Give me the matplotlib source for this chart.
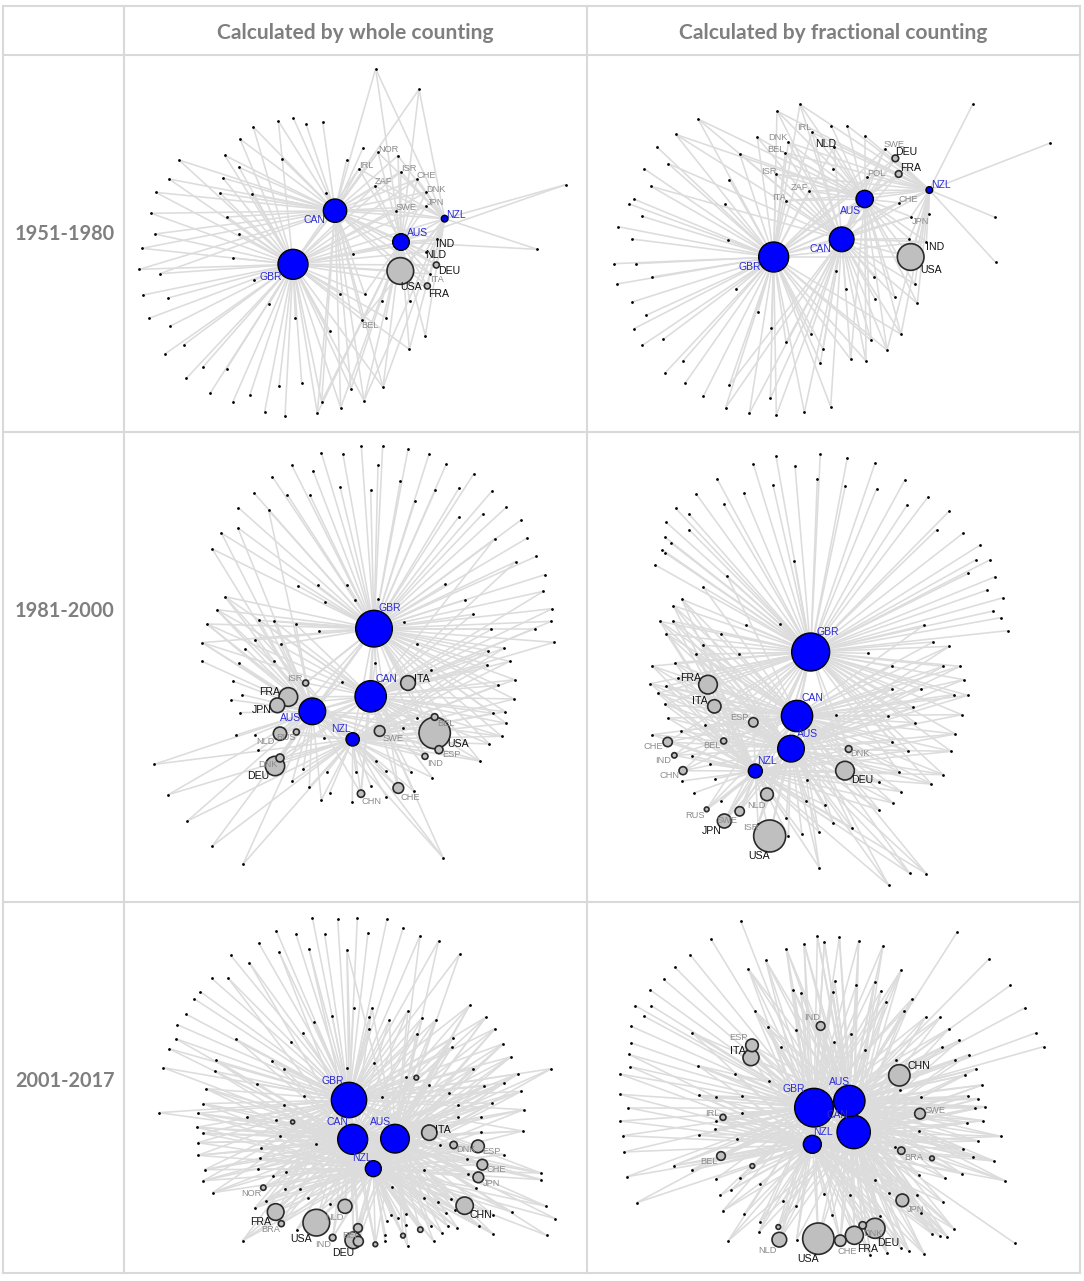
import matplotlib.pyplot as plt
import numpy as np
from matplotlib.collections import LineCollection
from matplotlib.patches import Circle

# ---------------- data (layout units: 3 units per pixel inside each cell) ----------------
COL_TITLES = ["Calculated by whole counting", "Calculated by fractional counting"]
ROW_TITLES = ["1951-1980", "1981-2000", "2001-2017"]
HUBS = ["GBR", "CAN", "AUS", "NZL"]

# panel 1: 1951-1980, whole counting
P1_HUB_XY = [(507, 628), (633, 467), (831, 561), (962, 491)]
P1_HUB_R = [45, 35, 25, 10]
P1_HUB_LAB = [(440, 665), (572, 495), (880, 535), (997, 480)]
P1_NODES = ["USA", "DEU", "FRA", "IND", "NLD", "ITA", "BEL", "SWE", "JPN", "DNK", "CHE", "ISR", "ZAF", "IRL", "NOR"]
P1_NODE_XY = [(829, 648), (937, 630), (910, 693), (940, 553), (905, 590), (918, 657), (715, 795), (815, 468),
              (906, 454), (907, 411), (880, 372), (830, 350), (752, 393), (705, 341), (762, 292)]
P1_NODE_R = [40, 9, 9, 0, 0, 0, 0, 0, 0, 0, 0, 0, 0, 0, 0]
P1_NODE_LAB = [(862, 695), (975, 648), (945, 717), (963, 566), (934, 600), (938, 673), (738, 812), (846, 459),
               (934, 442), (935, 402), (907, 362), (853, 340), (777, 380), (726, 331), (792, 282)]
P1_DARK = ["USA", "DEU", "FRA", "IND", "NLD"]
P1_DOTS = [(755, 41), (885, 103), (1325, 389), (1240, 583), (508, 189), (463, 198), (546, 207), (596, 200),
           (388, 216), (348, 252), (302, 301), (474, 311), (165, 315), (345, 337), (668, 315), (717, 279),
           (822, 302), (135, 372), (297, 369), (95, 412), (289, 415), (384, 417), (606, 414), (82, 475),
           (310, 486), (93, 537), (345, 536), (54, 580), (328, 609), (686, 597), (46, 643), (108, 656),
           (389, 676), (57, 720), (132, 729), (435, 747), (649, 716), (722, 717), (773, 737), (857, 739),
           (75, 790), (514, 789), (785, 788), (139, 813), (617, 827), (904, 842), (856, 883), (180, 869),
           (123, 897), (237, 936), (308, 941), (777, 997), (187, 970), (465, 993), (681, 1002), (258, 1015),
           (378, 1019), (533, 983), (327, 1040), (593, 1040), (720, 1037), (422, 1070), (483, 1083),
           (580, 1075), (650, 1058)]

# panel 2: 1951-1980, fractional counting
P2_HUB_XY = [(560, 606), (764, 553), (833, 432), (1027, 405)]
P2_HUB_R = [45, 37, 26, 10]
P2_HUB_LAB = [(487, 635), (701, 582), (790, 467), (1062, 390)]
P2_NODES = ["USA", "DEU", "FRA", "IND", "NLD", "SWE", "POL", "CHE", "JPN", "ZAF", "ITA", "ISR", "BEL", "DNK", "IRL"]
P2_NODE_XY = [(971, 606), (925, 310), (935, 357), (1018, 560), (741, 275), (893, 281), (840, 367), (935, 443),
              (972, 485), (665, 408), (597, 437), (568, 358), (595, 293), (604, 262), (675, 232)]
P2_NODE_R = [40, 10, 10, 0, 0, 0, 0, 0, 0, 0, 0, 0, 0, 0, 0]
P2_NODE_LAB = [(1031, 645), (958, 292), (970, 338), (1045, 575), (715, 268), (922, 268), (867, 355), (965, 433),
               (1000, 498), (638, 397), (576, 428), (545, 349), (568, 283), (574, 247), (652, 219)]
P2_DARK = ["USA", "DEU", "FRA", "IND", "NLD"]
P2_DOTS = [(639, 148), (1157, 148), (1390, 264), (570, 168), (333, 192), (266, 238), (733, 212), (781, 212),
           (833, 242), (511, 247), (209, 275), (458, 296), (244, 326), (171, 341), (427, 374), (739, 341),
           (192, 394), (140, 432), (127, 447), (414, 448), (166, 484), (93, 515), (134, 552), (422, 555),
           (1224, 487), (1025, 477), (967, 551), (82, 626), (146, 626), (195, 666), (90, 687), (446, 702),
           (746, 647), (861, 665), (983, 688), (1226, 622), (136, 741), (776, 701), (864, 731), (924, 727),
           (991, 745), (177, 781), (512, 772), (141, 821), (553, 818), (671, 836), (229, 853), (166, 871),
           (597, 862), (852, 856), (942, 838), (708, 883), (900, 885), (288, 918), (791, 913), (837, 918),
           (700, 925), (233, 955), (294, 985), (427, 990), (349, 1024), (550, 1030), (416, 1058), (487, 1075),
           (568, 1080), (652, 1072), (731, 1055)]

# panel 3: 1981-2000, whole counting
P3_HUB_XY = [(750, 590), (740, 793), (565, 838), (686, 922)]
P3_HUB_R = [55, 47, 40, 20]
P3_HUB_LAB = [(798, 527), (786, 740), (500, 857), (650, 892)]
P3_NODES = ["USA", "ITA", "FRA", "JPN", "DEU", "DNK", "NLD", "RUS", "ISR", "SWE", "BEL", "ESP", "IND", "CHN", "CHE"]
P3_NODE_XY = [(932, 903), (852, 753), (493, 795), (460, 820), (453, 1002), (468, 978), (468, 905), (517, 900),
              (545, 753), (767, 897), (932, 855), (945, 953), (903, 973), (711, 1085), (823, 1068)]
P3_NODE_R = [47, 22, 28, 22, 29, 12, 20, 9, 9, 16, 10, 12, 9, 11, 16]
P3_NODE_LAB = [(1002, 935), (893, 742), (438, 780), (412, 835), (403, 1032), (432, 998), (423, 930), (485, 918),
               (513, 740), (808, 920), (965, 875), (983, 968), (933, 993), (742, 1110), (858, 1096)]
P3_DARK = ["USA", "ITA", "FRA", "JPN", "DEU"]
P3_DOTS = [(712, 42), (776, 42), (852, 52), (592, 62), (657, 67), (915, 66), (503, 99), (762, 98), (967, 96),
           (567, 116), (1049, 126), (445, 134), (829, 147), (648, 164), (740, 175), (934, 175), (1006, 167),
           (1104, 177), (390, 183), (490, 188), (557, 188), (873, 208), (1147, 226), (343, 227), (434, 235),
           (1077, 245), (1005, 254), (1191, 264), (341, 287), (292, 303), (1210, 318), (1112, 320), (265, 351),
           (1175, 389), (1237, 373), (1263, 428), (964, 457), (521, 461), (581, 460), (670, 458), (1258, 478),
           (303, 494), (692, 505), (761, 502), (1023, 503), (603, 510), (1285, 530), (278, 533), (1047, 547),
           (404, 565), (449, 567), (515, 577), (249, 576), (841, 569), (1282, 568), (585, 598), (1102, 592),
           (1232, 590), (392, 624), (470, 637), (235, 632), (880, 635), (1290, 631), (364, 650), (1140, 649),
           (1092, 656), (234, 688), (344, 694), (450, 688), (754, 692), (1089, 698), (1157, 688), (921, 713),
           (326, 747), (653, 749), (1172, 743), (1121, 760), (354, 788), (321, 803), (1170, 801), (348, 842),
           (1144, 839), (1106, 844), (878, 857), (836, 887), (1147, 874), (336, 909), (392, 908), (1133, 913),
           (600, 917), (1096, 936), (403, 955), (91, 997), (755, 987), (860, 1020), (1068, 987), (538, 1010),
           (608, 1020), (695, 1020), (785, 1018), (925, 1037), (505, 1047), (740, 1061), (556, 1065),
           (617, 1082), (787, 1094), (870, 1078), (592, 1104), (685, 1111), (133, 1088), (190, 1167),
           (265, 1242), (357, 1297), (957, 1277)]

# panel 4: 1981-2000, fractional counting
P4_HUB_XY = [(671, 660), (630, 852), (612, 950), (505, 1017)]
P4_HUB_R = [57, 47, 40, 21]
P4_HUB_LAB = [(723, 600), (676, 797), (662, 906), (540, 988)]
P4_NODES = ["USA", "FRA", "ITA", "ESP", "CHE", "BEL", "IND", "CHN", "DNK", "DEU", "NLD", "RUS", "SWE", "JPN", "ISR"]
P4_NODE_XY = [(548, 1212), (363, 758), (382, 823), (499, 871), (242, 930), (410, 927), (262, 970), (288, 1016),
              (785, 951), (774, 1016), (540, 1087), (359, 1132), (458, 1138), (412, 1167), (513, 1176)]
P4_NODE_R = [48, 28, 20, 14, 14, 9, 8, 12, 10, 28, 19, 7, 14, 21, 0]
P4_NODE_LAB = [(515, 1272), (310, 738), (340, 806), (458, 858), (198, 943), (375, 940), (227, 985), (246, 1032),
               (820, 966), (825, 1045), (508, 1120), (325, 1150), (420, 1166), (375, 1198), (490, 1186)]
P4_DARK = ["USA", "FRA", "ITA", "DEU", "JPN"]
P4_DOTS = [(567, 72), (700, 66), (781, 77), (499, 96), (624, 102), (864, 94), (390, 140), (691, 140), (558, 159),
           (775, 161), (954, 143), (327, 185), (470, 183), (869, 170), (1023, 195), (410, 216), (266, 229),
           (961, 218), (305, 245), (1086, 238), (238, 271), (306, 293), (1049, 293), (1129, 303), (235, 316),
           (251, 332), (1178, 340), (226, 353), (235, 363), (621, 387), (1166, 384), (1210, 383), (203, 398),
           (1144, 424), (1225, 434), (420, 432), (349, 466), (1201, 474), (285, 502), (1249, 497), (259, 521),
           (1219, 537), (219, 568), (259, 568), (478, 578), (578, 577), (1242, 557), (1010, 580), (238, 605),
           (402, 606), (1262, 596), (349, 640), (1038, 630), (1087, 643), (327, 667), (456, 665), (843, 664),
           (264, 692), (196, 702), (914, 702), (1069, 703), (1119, 703), (272, 738), (190, 755), (238, 762),
           (1130, 743), (914, 771), (1001, 771), (212, 784), (1100, 788), (1143, 790), (233, 817), (978, 826),
           (746, 848), (903, 853), (1124, 848), (243, 858), (355, 880), (985, 872), (196, 908), (283, 897),
           (1105, 906), (915, 929), (964, 956), (1093, 958), (314, 972), (368, 996), (937, 1021), (1069, 1028),
           (285, 1047), (384, 1040), (661, 1045), (875, 1050), (1033, 1056), (321, 1083), (943, 1079),
           (401, 1108), (657, 1107), (715, 1120), (918, 1113), (877, 1134), (598, 1158), (739, 1172),
           (796, 1188), (604, 1212), (645, 1206), (695, 1199), (697, 1307), (968, 1324), (1018, 1325),
           (905, 1360)]

# panel 5: 2001-2017, whole counting
P5_HUB_XY = [(675, 594), (686, 712), (813, 710), (748, 800)]
P5_HUB_R = [53, 45, 43, 24]
P5_HUB_LAB = [(625, 537), (640, 660), (770, 660), (715, 768)]
P5_NODES = ["ITA", "DNK", "ESP", "CHE", "JPN", "CHN", "NOR", "FRA", "BRA", "USA", "NLD", "IND", "BEL", "DEU",
            "", "", "", "", "", ""]
P5_NODE_XY = [(916, 692), (989, 729), (1062, 733), (1075, 788), (1063, 826), (1022, 911), (418, 857), (455, 930),
              (472, 965), (577, 962), (663, 913), (626, 1007), (702, 978), (688, 1015),
              (703, 1018), (877, 527), (506, 660), (754, 1027), (837, 1001), (889, 983)]
P5_NODE_R = [23, 11, 19, 16, 16, 26, 8, 25, 9, 40, 21, 10, 13, 25, 15, 7, 6, 7, 7, 8]
P5_NODE_LAB = [(958, 683), (1025, 742), (1103, 747), (1117, 804), (1103, 844), (1072, 938), (383, 873),
               (410, 960), (440, 983), (530, 1012), (630, 948), (598, 1028), (680, 1000), (658, 1052),
               None, None, None, None, None, None]
P5_DARK = ["ITA", "CHN", "FRA", "USA", "DEU"]
P5_DOTS = [(565, 47), (641, 51), (700, 47), (789, 51), (838, 77), (457, 86), (516, 97), (602, 97), (732, 92),
           (888, 101), (944, 116), (404, 123), (466, 151), (555, 140), (669, 143), (1007, 156), (320, 160),
           (376, 182), (263, 229), (311, 227), (229, 269), (210, 290), (187, 337), (160, 368), (155, 410),
           (135, 440), (118, 497), (275, 475), (273, 508), (245, 560), (237, 605), (221, 634), (105, 632),
           (218, 676), (237, 694), (221, 722), (222, 760), (242, 803), (238, 836), (266, 872), (689, 317),
           (744, 317), (852, 327), (624, 342), (736, 346), (570, 360), (796, 355), (895, 347), (935, 354),
           (1037, 310), (1085, 346), (1113, 380), (537, 393), (735, 380), (878, 395), (337, 412), (502, 420),
           (986, 409), (1138, 425), (444, 478), (983, 436), (1160, 465), (1047, 500), (1282, 500), (1183, 515),
           (1139, 543), (1080, 552), (1192, 568), (847, 525), (670, 498), (750, 482), (481, 500), (400, 545),
           (540, 583), (773, 585), (916, 549), (976, 573), (1001, 610), (1104, 604), (1199, 623), (481, 610),
           (369, 645), (456, 653), (1001, 645), (1070, 645), (1071, 690), (1196, 687), (469, 701), (576, 727),
           (410, 737), (947, 729), (1040, 735), (1139, 758), (408, 769), (1029, 771), (1031, 817), (1250, 813),
           (403, 800), (485, 810), (1252, 833), (448, 822), (901, 804), (805, 856), (1055, 857), (483, 860),
           (528, 860), (427, 896), (551, 888), (617, 907), (392, 918), (899, 887), (941, 900), (981, 890),
           (1267, 913), (1294, 950), (801, 938), (821, 948), (847, 937), (965, 934), (992, 923), (1163, 930),
           (518, 983), (788, 958), (845, 968), (922, 973), (971, 972), (1000, 977), (1064, 973), (1108, 997),
           (1268, 1000), (1107, 938), (784, 998), (783, 1016), (851, 1033), (929, 1018), (954, 993), (356, 1016)]

# panel 6: 2001-2017, fractional counting
P6_HUB_XY = [(681, 617), (800, 690), (787, 597), (676, 727)]
P6_HUB_R = [58, 50, 47, 27]
P6_HUB_LAB = [(620, 560), (752, 640), (757, 539), (707, 691)]
P6_NODES = ["CHN", "SWE", "BRA", "JPN", "DEU", "DNK", "FRA", "CHE", "USA", "NLD", "BEL", "IRL", "ITA", "ESP", "IND",
            "", "", ""]
P6_NODE_XY = [(937, 520), (999, 635), (943, 746), (946, 895), (864, 979), (827, 970), (802, 1000), (760, 1016),
              (694, 1010), (577, 1013), (402, 762), (408, 646), (492, 467), (495, 430), (701, 372),
              (574, 975), (496, 792), (1035, 769)]
P6_NODE_R = [32, 16, 11, 19, 30, 11, 27, 17, 47, 22, 13, 9, 24, 19, 13, 7, 7, 7]
P6_NODE_LAB = [(995, 493), (1045, 625), (980, 766), (985, 922), (904, 1022), (858, 995), (842, 1040), (782, 1050),
               (663, 1070), (540, 1046), (365, 778), (375, 636), (453, 446), (453, 405), (675, 348),
               None, None, None]
P6_DARK = ["CHN", "DEU", "FRA", "USA", "ITA"]
P6_DOTS = [(461, 56), (1110, 91), (691, 103), (757, 105), (815, 117), (371, 110), (651, 125), (712, 121),
           (888, 131), (598, 141), (309, 158), (1206, 171), (536, 175), (484, 201), (263, 195), (943, 203),
           (230, 232), (743, 238), (808, 250), (863, 240), (1270, 250), (189, 263), (619, 263), (642, 273),
           (737, 271), (882, 267), (975, 291), (896, 301), (145, 311), (193, 311), (1313, 318), (503, 326),
           (951, 326), (1016, 345), (1060, 346), (172, 343), (627, 384), (792, 396), (1086, 380), (133, 373),
           (316, 393), (543, 376), (1346, 393), (1117, 415), (131, 422), (740, 420), (582, 436), (835, 443),
           (1064, 436), (1370, 434), (125, 457), (1146, 458), (928, 475), (1105, 473), (130, 494), (333, 491),
           (1166, 501), (98, 516), (444, 517), (1135, 519), (545, 538), (1185, 549), (98, 577), (335, 580),
           (386, 584), (466, 581), (939, 564), (1001, 584), (1142, 582), (1173, 590), (122, 617), (466, 633),
           (1165, 617), (1194, 614), (100, 657), (387, 657), (1141, 662), (1187, 656), (995, 686), (107, 701),
           (335, 700), (385, 682), (449, 711), (1173, 717), (1241, 703), (110, 750), (923, 735), (1127, 740),
           (1158, 765), (1221, 777), (260, 791), (314, 804), (386, 831), (1125, 815), (1253, 836), (120, 824),
           (460, 827), (863, 833), (997, 819), (1075, 829), (433, 864), (520, 846), (710, 877), (790, 879),
           (907, 872), (989, 880), (1067, 899), (149, 902), (400, 880), (588, 898), (628, 912), (472, 936),
           (407, 927), (736, 940), (880, 943), (1002, 933), (1284, 1024), (518, 960), (1101, 981), (516, 990),
           (1036, 996), (1058, 1002), (1081, 1004), (424, 1016), (629, 1013), (1012, 1056), (966, 1048),
           (941, 1038), (900, 1052), (850, 1060)]

# ---------------- layout ----------------
W, H = 1084, 1281
COL_X = [3, 124, 587, 1080]
ROW_Y = [6, 55, 432, 902, 1273]
HEADER_Y = 33
ROW_LABEL_Y = [234, 611, 1081]
GRID = "#d9d9d9"
TITLE_GREY = "#7f7f7f"
HUB_BLUE = "#0000ff"
HUB_TEXT = "#2b2bd6"

PANELS = [
    (0, 0, P1_HUB_XY, P1_HUB_R, P1_HUB_LAB, P1_NODES, P1_NODE_XY, P1_NODE_R, P1_NODE_LAB, P1_DARK, P1_DOTS),
    (0, 1, P2_HUB_XY, P2_HUB_R, P2_HUB_LAB, P2_NODES, P2_NODE_XY, P2_NODE_R, P2_NODE_LAB, P2_DARK, P2_DOTS),
    (1, 0, P3_HUB_XY, P3_HUB_R, P3_HUB_LAB, P3_NODES, P3_NODE_XY, P3_NODE_R, P3_NODE_LAB, P3_DARK, P3_DOTS),
    (1, 1, P4_HUB_XY, P4_HUB_R, P4_HUB_LAB, P4_NODES, P4_NODE_XY, P4_NODE_R, P4_NODE_LAB, P4_DARK, P4_DOTS),
    (2, 0, P5_HUB_XY, P5_HUB_R, P5_HUB_LAB, P5_NODES, P5_NODE_XY, P5_NODE_R, P5_NODE_LAB, P5_DARK, P5_DOTS),
    (2, 1, P6_HUB_XY, P6_HUB_R, P6_HUB_LAB, P6_NODES, P6_NODE_XY, P6_NODE_R, P6_NODE_LAB, P6_DARK, P6_DOTS),
]

LABEL_FONT = "Liberation Sans"
TITLE_FONT = "Lato"


def draw_network(ax, hub_xy, hub_r, hub_lab, nodes, node_xy, node_r, node_lab, dark, dots):
    hubs = np.array(hub_xy, dtype=float)
    pts = np.array(dots, dtype=float)

    # each peripheral country links to its nearest hub, plus nearby other hubs
    segs = []
    for p in pts:
        dist = np.hypot(hubs[:, 0] - p[0], hubs[:, 1] - p[1])
        near = np.argmin(dist)
        for k in range(len(hubs)):
            if k == near or (dist[k] <= 1.4 * dist[near] and dist[k] < 620):
                segs.append([p, hubs[k]])
    for p in node_xy:
        for h in hubs:
            segs.append([p, h])
    for i in range(len(hubs)):
        for j in range(i + 1, len(hubs)):
            segs.append([hubs[i], hubs[j]])
    ax.add_collection(LineCollection(segs, colors="#dcdcdc", linewidths=1.15, zorder=1))

    ax.scatter(pts[:, 0], pts[:, 1], s=4, c="black", linewidths=0, zorder=3)

    for name, (x, y), r, lab in zip(nodes, node_xy, node_r, node_lab):
        if r > 0:
            ax.add_patch(Circle((x, y), r, facecolor="#bfbfbf", edgecolor="#2a2a2a", lw=1.2, zorder=4))
        else:
            ax.scatter([x], [y], s=4, c="black", linewidths=0, zorder=3)
        if lab is not None and name:
            if name in dark:
                ax.text(lab[0], lab[1], name, color="#111111", fontsize=7.6, family=LABEL_FONT,
                        ha="center", va="center", zorder=6)
            else:
                ax.text(lab[0], lab[1], name, color="#8c8c8c", fontsize=6.7, family=LABEL_FONT,
                        ha="center", va="center", zorder=6)

    for name, (x, y), r, lab in zip(HUBS, hub_xy, hub_r, hub_lab):
        ax.add_patch(Circle((x, y), r, facecolor=HUB_BLUE, edgecolor="black", lw=1.0, zorder=5))
        ax.text(lab[0], lab[1], name, color=HUB_TEXT, fontsize=7.5, family=LABEL_FONT,
                ha="center", va="center", zorder=6)


fig = plt.figure(figsize=(W / 100, H / 100), dpi=100)
fig.patch.set_facecolor("white")

# table frame
base = fig.add_axes([0, 0, 1, 1])
base.set_xlim(0, W)
base.set_ylim(H, 0)
base.axis("off")
for x in COL_X:
    base.plot([x, x], [ROW_Y[0], ROW_Y[-1]], color=GRID, lw=1.5, zorder=0)
for y in ROW_Y:
    base.plot([COL_X[0], COL_X[-1]], [y, y], color=GRID, lw=1.5, zorder=0)

for c, title in enumerate(COL_TITLES):
    base.text((COL_X[c + 1] + COL_X[c + 2]) / 2, HEADER_Y, title,
              ha="center", va="center", fontsize=15.1, fontweight="bold", color=TITLE_GREY, family=TITLE_FONT)
for r, title in enumerate(ROW_TITLES):
    base.text((COL_X[0] + COL_X[1]) / 2 + 1, ROW_LABEL_Y[r], title,
              ha="center", va="center", fontsize=14.3, fontweight="bold", color=TITLE_GREY, family=TITLE_FONT)

for row, col, *net in PANELS:
    x0, x1 = COL_X[col + 1], COL_X[col + 2]
    y0, y1 = ROW_Y[row + 1], ROW_Y[row + 2]
    ax = fig.add_axes([x0 / W, 1 - y1 / H, (x1 - x0) / W, (y1 - y0) / H])
    ax.set_xlim(0, 3 * (x1 - x0))
    ax.set_ylim(3 * (y1 - y0), 0)
    ax.axis("off")
    draw_network(ax, *net)

fig.savefig("out.png", dpi=100, facecolor="white")
